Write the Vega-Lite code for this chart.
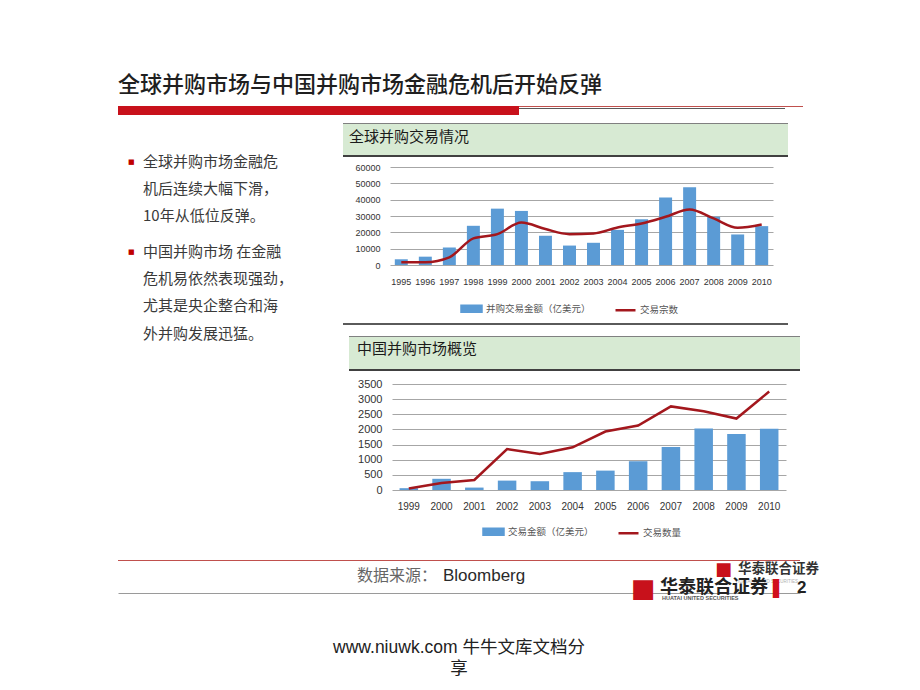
{
  "$schema": "https://vega.github.io/schema/vega-lite/v6.json",
  "background": "white",
  "padding": {"left": 118, "top": 74, "right": 10, "bottom": 5},
  "config": {"view": {"stroke": null}, "font": "Noto Sans CJK SC"},
  "spacing": 0,
  "bounds": "full",
  "vconcat": [
    {
      "hconcat": [
        {
          "width": 401, "height": 9,
          "view": {"fill": "#c8111b"},
          "title": {"text": "全球并购市场与中国并购市场金融危机后开始反弹", "anchor": "start", "frame": "group", "fontSize": 22, "font": "Noto Sans CJK SC", "fontWeight": 500, "color": "#1f1f1f", "offset": 9},
          "data": {"values": []},
          "mark": "point"
        },
        {
          "vconcat": [
            {"width": 284, "height": 1, "view": {"fill": "#c0504d"}, "data": {"values": []}, "mark": "point"},
            {"width": 266, "height": 1, "view": {"fill": "#5a5a5a"}, "data": {"values": []}, "mark": "point"}
          ],
          "spacing": 1,
          "bounds": "flush"
        }
      ],
      "spacing": 0,
      "bounds": "flush"
    },
    {"width": 1, "height": 8, "data": {"values": []}, "mark": "point"},
    {
      "hconcat": [
        {
          "width": 225, "height": 153,
          "data": {"values": [
            {"para": 1, "text": "全球并购市场金融危\n机后连续大幅下滑，\n10年从低位反弹。"},
            {"para": 2, "text": "中国并购市场 在金融\n危机易依然表现强劲，\n尤其是央企整合和海\n外并购发展迅猛。"}
          ]},
          "encoding": {
            "x": {"datum": 0, "type": "quantitative", "scale": {"domain": [0, 1]}, "axis": null},
            "y": {"field": "para", "type": "ordinal", "scale": {"type": "point", "padding": 0.35}, "axis": null}
          },
          "layer": [
            {"mark": {"type": "text", "align": "left", "baseline": "top", "lineBreak": "\n", "lineHeight": 27.4, "fontSize": 15, "font": "Noto Sans CJK SC", "color": "#3a3a3a", "dx": 25}, "encoding": {"text": {"field": "text"}}},
            {"mark": {"type": "text", "align": "left", "baseline": "top", "fontSize": 7, "font": "DejaVu Sans", "color": "#c00000", "dx": 10, "dy": 3}, "encoding": {"text": {"value": "■"}}}
          ]
        },
        {
          "vconcat": [
            {"width": 445, "height": 1, "view": {"fill": "#808080"}, "data": {"values": []}, "mark": "point"},
            {
              "width": 445, "height": 31, "view": {"fill": "#d7ead3"},
              "data": {"values": [{"t": "全球并购交易情况"}]},
              "mark": {"type": "text", "align": "left", "baseline": "middle", "fontSize": 15, "font": "Noto Sans CJK SC", "color": "#1a1a1a", "dx": 6, "dy": -3},
              "encoding": {"x": {"datum": 0, "type": "quantitative", "scale": {"domain": [0, 1]}, "axis": null}, "text": {"field": "t"}}
            },
            {"width": 445, "height": 2, "view": {"fill": "#404040"}, "data": {"values": []}, "mark": "point"},
            {"width": 1, "height": 6, "data": {"values": []}, "mark": "point"},
            {
              "hconcat": [
                {"width": 47, "height": 98, "data": {"values": []}, "mark": "point"},
                {
                  "width": 383, "height": 98,
                  "data": {"values": [
                    {"year": "1995", "amount": 3500, "deals": 1700},
                    {"year": "1996", "amount": 5100, "deals": 1700},
                    {"year": "1997", "amount": 10700, "deals": 4700},
                    {"year": "1998", "amount": 24000, "deals": 16300},
                    {"year": "1999", "amount": 34500, "deals": 18900},
                    {"year": "2000", "amount": 33100, "deals": 26000},
                    {"year": "2001", "amount": 17900, "deals": 22000},
                    {"year": "2002", "amount": 11900, "deals": 18900},
                    {"year": "2003", "amount": 13600, "deals": 19300},
                    {"year": "2004", "amount": 21500, "deals": 23000},
                    {"year": "2005", "amount": 28000, "deals": 25400},
                    {"year": "2006", "amount": 41300, "deals": 29500},
                    {"year": "2007", "amount": 47600, "deals": 34000},
                    {"year": "2008", "amount": 29500, "deals": 28500},
                    {"year": "2009", "amount": 18700, "deals": 22800},
                    {"year": "2010", "amount": 23800, "deals": 24800}
                  ]},
                  "encoding": {
                    "x": {"field": "year", "type": "ordinal", "title": null, "scale": {"paddingInner": 0.46, "paddingOuter": 0.2},
                      "axis": {"labelAngle": 0, "ticks": false, "tickSize": 0, "domain": false, "labelOverlap": false, "labelFontSize": 9, "labelFont": "Liberation Sans", "labelColor": "#333333", "labelPadding": 12}}
                  },
                  "layer": [
                    {
                      "mark": {"type": "bar"},
                      "encoding": {
                        "y": {"field": "amount", "type": "quantitative", "title": null, "scale": {"domain": [0, 60000], "nice": false},
                          "axis": {"values": [0, 10000, 20000, 30000, 40000, 50000, 60000], "tickCount": 7, "labelOverlap": false, "format": "d", "grid": true, "gridColor": "#a6a6a6", "domain": false, "ticks": false, "tickSize": 0, "labelFontSize": 9, "labelFont": "Liberation Sans", "labelColor": "#333333", "labelPadding": 10}},
                        "color": {
                          "datum": "并购交易金额（亿美元）",
                          "scale": {"domain": ["并购交易金额（亿美元）", "交易宗数"], "range": ["#5b9bd5", "#a3171d"]},
                          "legend": {
                            "orient": "none", "legendX": 70, "legendY": 130, "direction": "horizontal", "title": null,
                            "labelFontSize": 9.5, "labelColor": "#555555", "labelFont": "Noto Sans CJK SC",
                            "symbolSize": 400, "columnPadding": 19, "labelOffset": 3, "padding": 0, "symbolStrokeWidth": 2.5,
                            "encode": {"symbols": {"update": {
                              "shape": {"signal": "datum.value === '交易宗数' ? 'stroke' : 'M-1,-0.3H1V0.3H-1Z'"},
                              "fill": {"signal": "datum.value === '交易宗数' ? 'transparent' : '#5b9bd5'"},
                              "stroke": {"signal": "datum.value === '交易宗数' ? '#a3171d' : 'transparent'"},
                              "strokeWidth": {"value": 2.5},
                              "opacity": {"value": 1}
                            }}}
                          }
                        }
                      }
                    },
                    {
                      "mark": {"type": "line", "interpolate": "monotone", "strokeWidth": 2.5},
                      "encoding": {
                        "y": {"field": "deals", "type": "quantitative", "title": null},
                        "color": {"datum": "交易宗数"}
                      }
                    }
                  ]
                }
              ],
              "spacing": 0,
              "bounds": "flush",
              "resolve": {"scale": {"color": "independent"}, "legend": {"color": "independent"}}
            },
            {"width": 1, "height": 6, "data": {"values": []}, "mark": "point"},
            {"width": 445, "height": 2, "view": {"fill": "#5a5a5a"}, "data": {"values": []}, "mark": "point"},
            {"width": 1, "height": 11, "data": {"values": []}, "mark": "point"},
            {
              "hconcat": [
                {"width": 6, "height": 1, "data": {"values": []}, "mark": "point"},
                {
                  "vconcat": [
                    {"width": 451, "height": 1, "view": {"fill": "#808080"}, "data": {"values": []}, "mark": "point"},
                    {
                      "width": 451, "height": 32, "view": {"fill": "#d7ead3"},
                      "data": {"values": [{"t": "中国并购市场概览"}]},
                      "mark": {"type": "text", "align": "left", "baseline": "middle", "fontSize": 15, "font": "Noto Sans CJK SC", "color": "#1a1a1a", "dx": 8, "dy": -4},
                      "encoding": {"x": {"datum": 0, "type": "quantitative", "scale": {"domain": [0, 1]}, "axis": null}, "text": {"field": "t"}}
                    },
                    {"width": 451, "height": 2, "view": {"fill": "#404040"}, "data": {"values": []}, "mark": "point"}
                  ],
                  "spacing": 0,
                  "bounds": "flush"
                }
              ],
              "spacing": 0,
              "bounds": "flush"
            },
            {"width": 1, "height": 7, "data": {"values": []}, "mark": "point"},
            {
              "hconcat": [
                {"width": 49, "height": 106, "data": {"values": []}, "mark": "point"},
                {
                  "width": 394, "height": 106,
                  "data": {"values": [
                    {"year": "1999", "amount": 60, "deals": 50},
                    {"year": "2000", "amount": 370, "deals": 230},
                    {"year": "2001", "amount": 80, "deals": 330},
                    {"year": "2002", "amount": 310, "deals": 1350},
                    {"year": "2003", "amount": 290, "deals": 1190},
                    {"year": "2004", "amount": 590, "deals": 1410},
                    {"year": "2005", "amount": 640, "deals": 1930},
                    {"year": "2006", "amount": 950, "deals": 2130},
                    {"year": "2007", "amount": 1420, "deals": 2760},
                    {"year": "2008", "amount": 2030, "deals": 2600},
                    {"year": "2009", "amount": 1850, "deals": 2360},
                    {"year": "2010", "amount": 2020, "deals": 3250}
                  ]},
                  "encoding": {
                    "x": {"field": "year", "type": "ordinal", "title": null, "scale": {"paddingInner": 0.435, "paddingOuter": 0.23},
                      "axis": {"labelAngle": 0, "ticks": false, "tickSize": 0, "domain": false, "labelOverlap": false, "labelFontSize": 10, "labelFont": "Liberation Sans", "labelColor": "#333333", "labelPadding": 11}}
                  },
                  "layer": [
                    {
                      "mark": {"type": "bar"},
                      "encoding": {
                        "y": {"field": "amount", "type": "quantitative", "title": null, "scale": {"domain": [0, 3500], "nice": false},
                          "axis": {"values": [0, 500, 1000, 1500, 2000, 2500, 3000, 3500], "tickCount": 8, "labelOverlap": false, "format": "d", "grid": true, "gridColor": "#a6a6a6", "domain": false, "ticks": false, "tickSize": 0, "labelFontSize": 11, "labelFont": "Liberation Sans", "labelColor": "#333333", "labelPadding": 10}},
                        "color": {
                          "datum": "交易金额（亿美元）",
                          "scale": {"domain": ["交易金额（亿美元）", "交易数量"], "range": ["#5b9bd5", "#a3171d"]},
                          "legend": {
                            "orient": "none", "legendX": 90, "legendY": 136, "direction": "horizontal", "title": null,
                            "labelFontSize": 9.5, "labelColor": "#555555", "labelFont": "Noto Sans CJK SC",
                            "symbolSize": 400, "columnPadding": 19, "labelOffset": 3, "padding": 0, "symbolStrokeWidth": 2.5,
                            "encode": {"symbols": {"update": {
                              "shape": {"signal": "datum.value === '交易数量' ? 'stroke' : 'M-1,-0.3H1V0.3H-1Z'"},
                              "fill": {"signal": "datum.value === '交易数量' ? 'transparent' : '#5b9bd5'"},
                              "stroke": {"signal": "datum.value === '交易数量' ? '#a3171d' : 'transparent'"},
                              "strokeWidth": {"value": 2.5},
                              "opacity": {"value": 1}
                            }}}
                          }
                        }
                      }
                    },
                    {
                      "mark": {"type": "line", "strokeWidth": 2.5},
                      "encoding": {
                        "y": {"field": "deals", "type": "quantitative", "title": null},
                        "color": {"datum": "交易数量"}
                      }
                    }
                  ]
                }
              ],
              "spacing": 0,
              "bounds": "flush",
              "resolve": {"scale": {"color": "independent"}, "legend": {"color": "independent"}}
            }
          ],
          "spacing": 0,
          "bounds": "full",
          "resolve": {"scale": {"color": "independent"}, "legend": {"color": "independent"}}
        }
      ],
      "spacing": 0,
      "bounds": "full"
    },
    {"width": 1, "height": 20, "data": {"values": []}, "mark": "point"},
    {"width": 682, "height": 1, "view": {"fill": "#c0504d"}, "data": {"values": []}, "mark": "point"},
    {
      "width": 682, "height": 32,
      "data": {"values": [{"k": 1}]},
      "encoding": {
        "x": {"datum": 0, "type": "quantitative", "scale": {"domain": [0, 1]},
          "axis": {"domain": true, "domainColor": "#9a9a9a", "domainWidth": 1, "labels": false, "ticks": false, "grid": false, "title": null}}
      },
      "layer": [
        {"mark": {"type": "text", "align": "left", "baseline": "middle", "fontSize": 16, "font": "Noto Sans CJK SC", "color": "#666666", "dx": 239, "dy": -1}, "encoding": {"text": {"value": "数据来源："}}},
        {"mark": {"type": "text", "align": "left", "baseline": "middle", "fontSize": 17, "font": "Liberation Sans", "color": "#2a2a2a", "dx": 325, "dy": -1}, "encoding": {"text": {"value": "Bloomberg"}}},
        {"mark": {"type": "text", "align": "left", "baseline": "middle", "fontSize": 18, "font": "DejaVu Sans", "color": "#c8111b", "dx": 597, "dy": -7}, "encoding": {"text": {"value": "■"}}},
        {"mark": {"type": "text", "align": "left", "baseline": "middle", "fontSize": 13.5, "fontWeight": "bold", "font": "Noto Sans CJK SC", "color": "#333333", "dx": 620, "dy": -8}, "encoding": {"text": {"value": "华泰联合证券"}}},
        {"mark": {"type": "text", "align": "left", "baseline": "middle", "fontSize": 4.5, "font": "Liberation Sans", "color": "#b0b0b0", "dx": 618, "dy": 5}, "encoding": {"text": {"value": "HUATAI UNITED SECURITIES"}}},
        {"mark": {"type": "text", "align": "left", "baseline": "middle", "fontSize": 26, "font": "DejaVu Sans", "color": "#c8111b", "dx": 513, "dy": 12}, "encoding": {"text": {"value": "■"}}},
        {"mark": {"type": "text", "align": "left", "baseline": "middle", "fontSize": 18, "fontWeight": "bold", "font": "Noto Sans CJK SC", "color": "#222222", "dx": 542, "dy": 11}, "encoding": {"text": {"value": "华泰联合证券"}}},
        {"mark": {"type": "text", "align": "left", "baseline": "middle", "fontSize": 5.5, "fontWeight": "bold", "font": "Liberation Sans", "color": "#555555", "dx": 544, "dy": 21}, "encoding": {"text": {"value": "HUATAI UNITED SECURITIES"}}},
        {"mark": {"type": "text", "align": "left", "baseline": "middle", "fontSize": 16, "font": "DejaVu Sans", "color": "#d0101b", "dx": 655, "dy": 12}, "encoding": {"text": {"value": "▌"}}},
        {"mark": {"type": "text", "align": "left", "baseline": "middle", "fontSize": 17, "fontWeight": "bold", "font": "Liberation Sans", "color": "#222222", "dx": 679, "dy": 11}, "encoding": {"text": {"value": "2"}}}
      ]
    },
    {"width": 1, "height": 36, "data": {"values": []}, "mark": "point"},
    {
      "width": 682, "height": 2,
      "data": {"values": [{"t": "www.niuwk.com 牛牛文库文档分\n享"}]},
      "mark": {"type": "text", "align": "center", "baseline": "top", "lineBreak": "\n", "lineHeight": 21, "fontSize": 17.5, "font": "Liberation Sans, Noto Sans CJK SC", "color": "#222222"},
      "encoding": {"text": {"field": "t"}}
    }
  ]
}
